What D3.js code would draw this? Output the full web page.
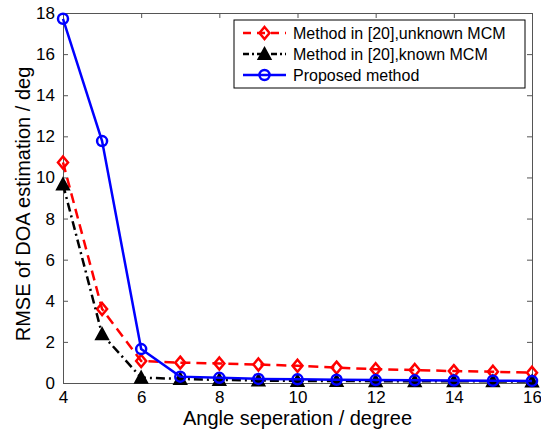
<!DOCTYPE html>
<html><head><meta charset="utf-8">
<script src="https://cdn.jsdelivr.net/npm/d3@7"></script>
<style>body{margin:0;background:#fff}svg{display:block}text{font-family:"Liberation Sans",Arial,sans-serif;fill:#000}</style>
</head><body>
<svg id="c" width="541" height="430"></svg>
<script>
const angles = [4,5,6,7,8,9,10,11,12,13,14,15,16];
const unknownMCM = [10.73,3.6,1.07,0.99,0.95,0.9,0.84,0.75,0.67,0.63,0.58,0.55,0.5];
const knownMCM = [9.66,2.37,0.26,0.2,0.15,0.12,0.1,0.1,0.09,0.08,0.08,0.08,0.07];
const proposed = [17.72,11.77,1.65,0.31,0.25,0.2,0.18,0.16,0.14,0.13,0.12,0.11,0.1];
const xTicks = [4,6,8,10,12,14,16];
const yTicks = [0,2,4,6,8,10,12,14,16,18];
const seriesNames = ["Method in [20],unknown MCM","Method in [20],known MCM","Proposed method"];

const svg = d3.select("#c");
const L=63, R=532, T=13, B=383;
const x = d3.scaleLinear().domain([4,16]).range([L,R]);
const y = d3.scaleLinear().domain([0,18]).range([B,T]);

const g = svg.append("g");
const ax = g.append("g").attr("transform",`translate(0,${B})`).call(d3.axisBottom(x).tickValues(xTicks).tickSizeInner(-5).tickSizeOuter(0).tickPadding(8));
const ay = g.append("g").attr("transform",`translate(${L},0)`).call(d3.axisLeft(y).tickValues(yTicks).tickSizeInner(-5).tickSizeOuter(0).tickPadding(8));
const axt = g.append("g").attr("transform",`translate(0,${T})`).call(d3.axisTop(x).tickValues(xTicks).tickSizeInner(-5).tickSizeOuter(0).tickFormat(""));
const ayr = g.append("g").attr("transform",`translate(${R},0)`).call(d3.axisRight(y).tickValues(yTicks).tickSizeInner(-5).tickSizeOuter(0).tickFormat(""));
[ax,ay,axt,ayr].forEach(a=>{a.selectAll("path,line").attr("stroke","#555").attr("stroke-width",1);a.selectAll("text").attr("font-size",17).attr("font-family","Liberation Sans, Arial, sans-serif").attr("fill","#000");});

const series = [
 {vals:unknownMCM,color:"#ff0000",dash:"10,6",marker:"diamond"},
 {vals:knownMCM,color:"#000000",dash:"9,4,2,4",marker:"triangle"},
 {vals:proposed,color:"#0000ff",dash:null,marker:"circle"}
];
const line = d3.line().x((d,i)=>x(angles[i])).y(d=>y(d));
function drawMarker(sel, type, cx, cy, color){
  if(type==="circle") sel.append("circle").attr("cx",cx).attr("cy",cy).attr("r",5).attr("fill","none").attr("stroke",color).attr("stroke-width",2.5);
  else if(type==="diamond") sel.append("path").attr("d",`M${cx},${cy-6}L${cx+5},${cy}L${cx},${cy+6}L${cx-5},${cy}Z`).attr("fill","none").attr("stroke",color).attr("stroke-width",2.5);
  else sel.append("path").attr("d",`M${cx},${cy-6}L${cx+6},${cy+5}L${cx-6},${cy+5}Z`).attr("fill","#000").attr("stroke",color).attr("stroke-width",2);
}
series.forEach(s=>{
  g.append("path").datum(s.vals).attr("d",line).attr("fill","none").attr("stroke",s.color).attr("stroke-width",2.5).attr("stroke-dasharray",s.dash);
  const mg=g.append("g");
  s.vals.forEach((v,i)=>drawMarker(mg,s.marker,x(angles[i]),y(v),s.color));
});

const lg = svg.append("g");
lg.append("rect").attr("x",234).attr("y",20).attr("width",291).attr("height",68).attr("fill","#fff").attr("stroke","#000").attr("stroke-width",1);
series.forEach((s,i)=>{
  const yy = 33+i*21;
  lg.append("line").attr("x1",243).attr("x2",286).attr("y1",yy).attr("y2",yy).attr("stroke",s.color).attr("stroke-width",2.5).attr("stroke-dasharray",s.dash?(i===0?"8,6":"6,3,2,3"):null);
  drawMarker(lg,s.marker,264.5,yy,s.color);
  lg.append("text").attr("x",293).attr("y",yy+5.5).attr("font-size",16).text(seriesNames[i]);
});

svg.append("text").attr("x",(L+R)/2).attr("y",425).attr("text-anchor","middle").attr("font-size",20).text("Angle seperation / degree");
svg.append("text").attr("transform",`translate(30,204) rotate(-90)`).attr("text-anchor","middle").attr("font-size",20).text("RMSE of DOA estimation / deg");
</script>
</body></html>
